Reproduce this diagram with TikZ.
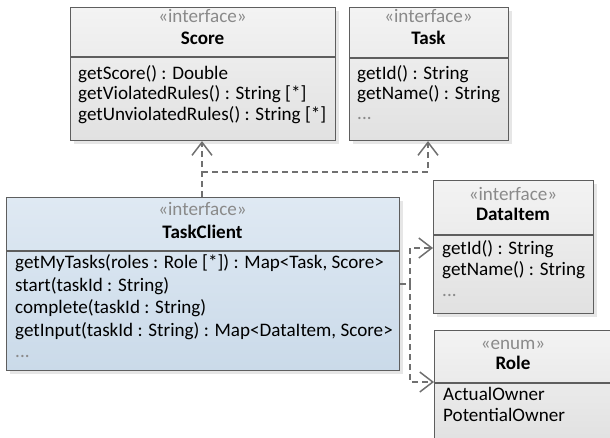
\documentclass[tikz,border=0pt]{standalone}
\usepackage{fontspec}
\setmainfont{Carlito}
\usetikzlibrary{arrows.meta,calc}

\definecolor{boxline}{HTML}{5E5E5E}
\definecolor{shade}{HTML}{E6E6E6}
\definecolor{grayTop}{HTML}{F3F3F3}
\definecolor{grayBot}{HTML}{E1E1E1}
\definecolor{blueTop}{HTML}{DFE9F3}
\definecolor{blueBot}{HTML}{CADAE9}
\definecolor{stereo}{HTML}{8A8A8A}
\definecolor{depline}{HTML}{707070}

\tikzset{
  x=1pt, y=-1pt,
  umlbox/.style={draw=boxline, line width=1.1pt, rectangle, anchor=north west,
    inner sep=0pt, top color=grayTop, bottom color=grayBot},
  bluebox/.style={umlbox, top color=blueTop, bottom color=blueBot},
  shadowbox/.style={fill=shade, draw=none},
  txt/.style={font=\fontsize{19.1}{20}\selectfont, inner sep=0pt, anchor=mid west},
  stereotype/.style={font=\fontsize{19.1}{20}\selectfont, inner sep=0pt, anchor=mid, text=stereo},
  classname/.style={font=\fontsize{19.1}{20}\selectfont\bfseries, inner sep=0pt, anchor=mid},
  dots/.style={txt, text=stereo},
  dep/.style={draw=depline, line width=1.3pt, dash pattern=on 6pt off 4pt,
    -{Straight Barb[length=13pt,width=20pt,line width=1.5pt]}},
  depplain/.style={draw=depline, line width=1.3pt, dash pattern=on 6pt off 4pt},
}

\begin{document}
\begin{tikzpicture}
\useasboundingbox (0,0) rectangle (610,437);
\clip (0,0) rectangle (610,437);

% drop shadows
\fill[shadowbox] (74,11) rectangle (339,144);
\fill[shadowbox] (353,11) rectangle (512,144);
\fill[shadowbox] (10,201) rectangle (403,374);
\fill[shadowbox] (437,184) rectangle (597,317);
\fill[shadowbox] (438,334) rectangle (620,445);

% Score
\node[umlbox, minimum width=265pt, minimum height=133pt] (score) at (70,7) {};
\draw[boxline, line width=1.1pt] (70,57) -- (335,57);
\node[stereotype] (scoreS) at (202.5,20) {«interface»};
\node[classname] (scoreN) at (202.5,42) {Score};
\node[txt] (score1) at (78,77) {getScore() : Double};
\node[txt] (score2) at (78,97.5) {getViolatedRules() : String [*]};
\node[txt] (score3) at (78,118) {getUnviolatedRules() : String [*]};

% Task
\node[umlbox, minimum width=159pt, minimum height=133pt] (task) at (349,7) {};
\draw[boxline, line width=1.1pt] (349,58) -- (508,58);
\node[stereotype] (taskS) at (428.5,20) {«interface»};
\node[classname] (taskN) at (428.5,42) {Task};
\node[txt] (task1) at (357,77) {getId() : String};
\node[txt] (task2) at (357,97.5) {getName() : String};
\node[dots] (task3) at (357,117) {...};

% TaskClient
\node[bluebox, minimum width=393pt, minimum height=173pt] (tc) at (6,197) {};
\draw[boxline, line width=1.1pt] (6,251) -- (399,251);
\node[stereotype] (tcS) at (202.5,213) {«interface»};
\node[classname] (tcN) at (202.5,236) {TaskClient};
\node[txt] (tc1) at (15,266.5) {getMyTasks(roles : Role [*]) : Map<Task, Score>};
\node[txt] (tc2) at (15,289) {start(taskId : String)};
\node[txt] (tc3) at (15,311.5) {complete(taskId : String)};
\node[txt] (tc4) at (15,334) {getInput(taskId : String) : Map<DataItem, Score>};
\node[dots] (tc5) at (15,355) {...};

% DataItem
\node[umlbox, minimum width=160pt, minimum height=133pt] (data) at (433,180) {};
\draw[boxline, line width=1.1pt] (433,235) -- (593,235);
\node[stereotype] (dataS) at (513,198) {«interface»};
\node[classname] (dataN) at (513,218.5) {DataItem};
\node[txt] (data1) at (442,252) {getId() : String};
\node[txt] (data2) at (442,273) {getName() : String};
\node[dots] (data3) at (442,294) {...};

% Role
\node[umlbox, minimum width=185pt, minimum height=112pt] (role) at (434,330) {};
\draw[boxline, line width=1.1pt] (434,383) -- (619,383);
\node[stereotype] (roleS) at (513,347) {«enum»};
\node[classname] (roleN) at (513,367.5) {Role};
\node[txt] (role1) at (443,398.5) {ActualOwner};
\node[txt] (role2) at (443,419.5) {PotentialOwner};

% dependencies
\coordinate (j1) at (202,172);
\coordinate (j2) at (428,172);
\draw[dep] (j1 |- tc.north) -- (j1 |- score.south);
\draw[dep] (j1) -- (j2) -- (j2 |- task.south);

\coordinate (k) at (410,284);
\coordinate (dIn) at (0,248);
\coordinate (rIn) at (0,382);
\draw[depplain] (k -| tc.east) -- (k);
\draw[dep] (k) |- (dIn -| data.west);
\draw[dep] (k) |- (rIn -| role.west);
\end{tikzpicture}
\end{document}
